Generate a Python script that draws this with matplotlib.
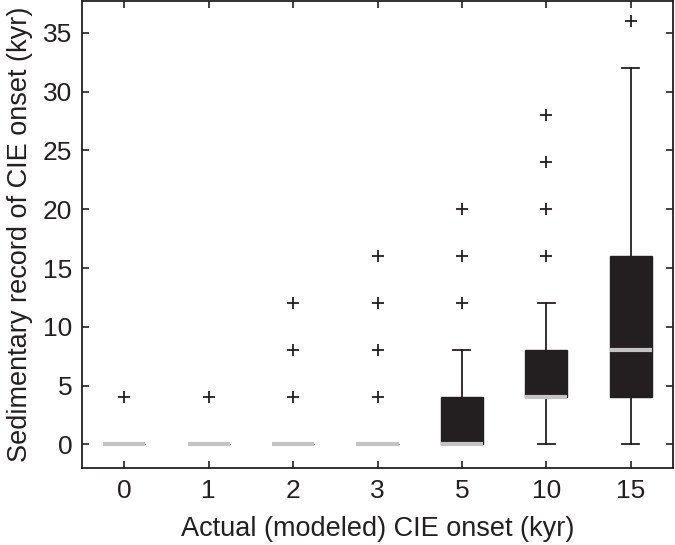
import matplotlib
matplotlib.use("Agg")
import matplotlib.pyplot as plt

categories = ["0", "1", "2", "3", "5", "10", "15"]
q1 = [0, 0, 0, 0, 0, 4, 4]
med = [0, 0, 0, 0, 0, 4, 8]
q3 = [0, 0, 0, 0, 4, 8, 16]
whislo = [0, 0, 0, 0, 0, 0, 0]
whishi = [0, 0, 0, 0, 8, 12, 32]
fliers = [
    [4],
    [4],
    [4, 8, 12],
    [4, 8, 12, 16],
    [12, 16, 20],
    [16, 20, 24, 28],
    [36],
]

plt.rcParams['font.family'] = ['Liberation Sans', 'DejaVu Sans']

fig = plt.figure(figsize=(6.75, 5.45), dpi=100)
ax = fig.add_axes([82 / 675, 1 - 468 / 545, (673 - 82) / 675, (468 - 1) / 545])

stats = []
for i, c in enumerate(categories):
    stats.append(dict(label=c, q1=q1[i], med=med[i], q3=q3[i],
                      whislo=whislo[i], whishi=whishi[i], fliers=fliers[i]))

positions = list(range(1, len(categories) + 1))
ax.bxp(stats, positions=positions, widths=0.5, capwidths=0.2,
       patch_artist=True, showfliers=True,
       boxprops=dict(facecolor='#231f20', edgecolor='#231f20', linewidth=1.0),
       medianprops=dict(color='#c4c4c4', linewidth=3.0, solid_capstyle='butt'),
       whiskerprops=dict(color='#231f20', linewidth=1.3),
       capprops=dict(color='#231f20', linewidth=1.3),
       flierprops=dict(marker='+', markeredgecolor='#231f20', markersize=8,
                       markeredgewidth=1.3, linestyle='none'))

ax.set_xlim(0.5, 7.5)
ax.set_ylim(-2, 37.7)
ax.set_xticks(positions)
ax.set_xticklabels(categories)
ax.set_yticks([0, 5, 10, 15, 20, 25, 30, 35])
ax.tick_params(direction='in', length=5, width=1.2, top=True, right=True,
               labelsize=19, colors='#231f20')
ax.tick_params(axis='x', pad=8)
ax.tick_params(axis='y', pad=7)
for s in ax.spines.values():
    s.set_linewidth(1.3)
    s.set_color('#231f20')

ax.set_xlabel("Actual (modeled) CIE onset (kyr)", fontsize=19.5, color='#231f20', labelpad=9)
ax.set_ylabel("Sedimentary record of CIE onset (kyr)", fontsize=19.5, color='#231f20', labelpad=7)

fig.savefig("out.png", dpi=100)
